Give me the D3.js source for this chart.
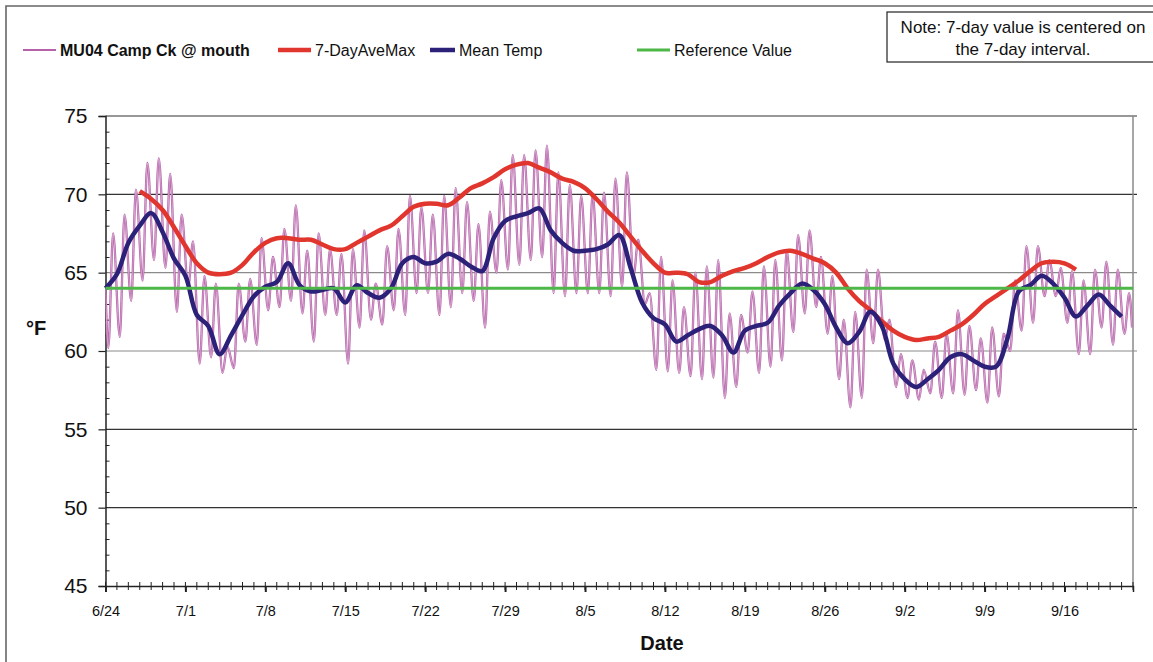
<!DOCTYPE html>
<html>
<head>
<meta charset="utf-8">
<script src="https://d3js.org/d3.v7.min.js"></script>
<style>
  body { margin: 0; background: #fff; }
  svg { font-family: "Liberation Sans", Arial, sans-serif; }
</style>
</head>
<body>
<svg id="chart" width="1153" height="662"></svg>
<script>
// ---- data ----
const startDay = "6/24";          // first day of record, day index 0
const endDay = "9/22";            // right end of the axis

// continuous logger: daily minimum (early morning) and maximum (afternoon), deg F
const dailyMin = [60.2, 60.9, 63.2, 64.5, 65.8, 65.3, 62.5, 64.1, 59.2, 59.6,
                  58.6, 58.9, 60.6, 60.4, 62.6, 62.8, 63.2, 62.4, 60.6, 62.3,
                  62.3, 59.2, 61.5, 62.0, 61.7, 62.6, 62.3, 63.7, 63.7, 62.3,
                  62.8, 63.7, 63.2, 61.5, 65.0, 65.2, 65.5, 65.8, 66.0, 63.7,
                  63.5, 63.7, 63.7, 63.7, 63.5, 64.1, 64.8, 63.0, 58.8, 58.7,
                  58.6, 58.4, 58.2, 58.3, 57.0, 57.7, 59.9, 58.6, 59.0, 59.4,
                  61.2, 62.4, 62.8, 61.1, 58.2, 56.4, 57.0, 60.5, 60.7, 57.7,
                  57.0, 56.9, 57.3, 57.0, 57.3, 57.2, 57.5, 56.7, 57.1, 60.0,
                  61.3, 61.8, 63.5, 63.5, 61.8, 59.8, 59.8, 61.5, 60.4, 61.1];
const dailyMax = [67.5, 68.7, 70.3, 72.0, 72.3, 71.3, 68.7, 67.0, 64.8, 64.3,
                  60.3, 64.3, 64.6, 67.2, 66.0, 67.8, 69.3, 66.4, 67.5, 66.5,
                  66.2, 66.5, 67.7, 64.3, 66.7, 67.8, 69.9, 69.2, 68.7, 69.9,
                  70.4, 69.5, 68.1, 68.9, 70.9, 72.5, 72.5, 72.8, 73.1, 71.4,
                  70.6, 69.9, 70.0, 70.1, 71.0, 71.4, 67.1, 63.7, 66.0, 64.5,
                  62.8, 65.0, 65.4, 65.8, 62.4, 62.3, 63.8, 65.4, 65.8, 66.4,
                  67.4, 67.7, 66.0, 64.8, 62.0, 62.5, 65.2, 65.2, 62.0, 59.8,
                  59.4, 58.8, 60.6, 61.1, 62.6, 61.6, 60.8, 61.5, 61.1, 64.5,
                  66.7, 66.7, 65.8, 65.3, 65.1, 64.5, 65.2, 65.7, 65.2, 63.7];
const minHour = 6, maxHour = 16;
const firstReading = 64.0, lastReading = 61.5;

// 7-day average of daily maxima, centred, starting 6/27
const aveMaxStart = "6/27";
const aveMax7 = [70.2, 69.7, 69.0, 67.9, 66.7, 65.6, 65.0, 64.9, 65.0, 65.5,
                 66.3, 66.9, 67.2, 67.2, 67.1, 67.1, 66.8, 66.5, 66.5, 66.9,
                 67.3, 67.7, 68.0, 68.6, 69.2, 69.4, 69.4, 69.3, 69.8, 70.4,
                 70.7, 71.1, 71.6, 71.9, 72.0, 71.7, 71.4, 71.0, 70.8, 70.4,
                 69.7, 68.9, 68.2, 67.3, 66.4, 65.6, 65.0, 65.0, 64.9, 64.4,
                 64.4, 64.8, 65.1, 65.3, 65.6, 66.0, 66.3, 66.4, 66.2, 65.9,
                 65.6, 65.0, 64.0, 63.2, 62.6, 61.9, 61.3, 60.9, 60.7, 60.8,
                 60.9, 61.3, 61.7, 62.3, 63.0, 63.5, 64.0, 64.5, 65.1, 65.6,
                 65.7, 65.6, 65.2];

// daily mean temperature, starting 6/24
const meanTemp = [64.0, 64.9, 66.9, 68.0, 68.8, 67.6, 65.9, 64.8, 62.3, 61.6,
                  59.8, 61.0, 62.3, 63.5, 64.1, 64.4, 65.6, 64.2, 63.8, 63.9,
                  64.0, 63.1, 64.2, 63.7, 63.4, 64.0, 65.6, 66.0, 65.6, 65.7,
                  66.2, 65.9, 65.4, 65.1, 67.2, 68.3, 68.6, 68.8, 69.1, 67.7,
                  66.9, 66.4, 66.4, 66.5, 66.8, 67.4, 65.3, 63.1, 62.1, 61.7,
                  60.6, 61.0, 61.4, 61.6, 61.0, 59.9, 61.3, 61.6, 61.8, 62.9,
                  63.7, 64.3, 63.9, 63.0, 61.5, 60.5, 61.2, 62.5, 61.6, 59.2,
                  58.2, 57.7, 58.2, 58.8, 59.6, 59.8, 59.4, 59.0, 59.0, 60.8,
                  63.8, 64.2, 64.8, 64.3, 63.4, 62.2, 62.9, 63.6, 62.9, 62.2];

const referenceValue = 64;

const xTickLabels = ["6/24", "7/1", "7/8", "7/15", "7/22", "7/29", "8/5",
                     "8/12", "8/19", "8/26", "9/2", "9/9", "9/16"];
const yTicks = [45, 50, 55, 60, 65, 70, 75];

const seriesNames = ["MU04 Camp Ck @ mouth", "7-DayAveMax", "Mean Temp", "Reference Value"];
const seriesColors = ["#b562a9", "#e1362e", "#2b2178", "#4db748"];

// ---- scales ----
const parse = s => { const [m, d] = s.split("/").map(Number); return new Date(2007, m - 1, d); };
const day0 = parse(startDay);

const plot = { left: 105.5, right: 1133, top: 116, bottom: 586 };

const x = d3.scaleTime().domain([day0, parse(endDay)]).range([plot.left, plot.right]);
const y = d3.scaleLinear().domain([45, 75]).range([plot.bottom, plot.top]);

const svg = d3.select("#chart");

// outer chart border
svg.append("path")
  .attr("d", "M6,662 V6 H1153")
  .attr("fill", "none")
  .attr("stroke", "#666")
  .attr("stroke-width", 1.6);

// gridlines
svg.append("g").selectAll("line")
  .data(yTicks.filter(v => v > 45))
  .join("line")
  .attr("x1", plot.left).attr("x2", plot.right + 4)
  .attr("y1", d => y(d)).attr("y2", d => y(d))
  .attr("stroke", d => (d === 60 || d === 65) ? "#8a8a8a" : "#333")
  .attr("stroke-width", 1.2);

// right frame
svg.append("line")
  .attr("x1", plot.right).attr("x2", plot.right)
  .attr("y1", plot.top).attr("y2", plot.bottom)
  .attr("stroke", "#8a8a8a").attr("stroke-width", 1.5);

// y axis
const yAxis = svg.append("g")
  .attr("transform", `translate(${plot.left},0)`)
  .call(d3.axisLeft(y).tickValues(yTicks).tickSize(7).tickPadding(11));
yAxis.select(".domain").attr("stroke", "#222").attr("stroke-width", 1.5);
yAxis.selectAll(".tick line").attr("stroke", "#222").attr("stroke-width", 1.2);
yAxis.selectAll("text").attr("font-size", 21).attr("fill", "#111")
  .attr("font-family", "Liberation Sans, Arial, sans-serif");

svg.append("g")
  .attr("transform", `translate(${plot.left},0)`)
  .call(d3.axisRight(y).tickValues(d3.range(46, 75).filter(v => v % 5)).tickSize(4).tickFormat(""))
  .call(g => g.select(".domain").remove())
  .selectAll(".tick line").attr("stroke", "#222").attr("stroke-width", 1);

// x axis
const xAxis = svg.append("g")
  .attr("transform", `translate(0,${plot.bottom})`)
  .call(d3.axisBottom(x).tickValues(xTickLabels.map(parse))
    .tickFormat((d, i) => xTickLabels[i]).tickSize(6).tickPadding(14));
xAxis.select(".domain").attr("stroke", "#222").attr("stroke-width", 1.5);
xAxis.selectAll(".tick line").attr("stroke", "#222").attr("stroke-width", 2);
xAxis.selectAll("text").attr("font-size", 14.5).attr("fill", "#111")
  .attr("font-family", "Liberation Sans, Arial, sans-serif");

svg.append("g").selectAll("line")
  .data(d3.timeDay.range(day0, d3.timeDay.offset(parse(endDay), 1)))
  .join("line")
  .attr("x1", d => x(d)).attr("x2", d => x(d))
  .attr("y1", plot.bottom - 4).attr("y2", plot.bottom + 4)
  .attr("stroke", "#222").attr("stroke-width", 1);

// axis titles
svg.append("text").attr("x", 36).attr("y", 335)
  .attr("text-anchor", "middle").attr("font-size", 20).attr("font-weight", "bold")
  .attr("fill", "#111").text("°F");
svg.append("text").attr("x", 662).attr("y", 650)
  .attr("text-anchor", "middle").attr("font-size", 20).attr("font-weight", "bold")
  .attr("fill", "#111").text("Date");

svg.append("defs").append("clipPath").attr("id", "plotclip")
  .append("rect").attr("x", plot.left).attr("y", plot.top - 10)
  .attr("width", plot.right - plot.left).attr("height", plot.bottom - plot.top + 10);

// continuous record: min and max of each day in time order
const raw = [{ t: day0, v: firstReading }];
dailyMin.forEach((mn, i) => {
  const d = d3.timeDay.offset(day0, i);
  raw.push({ t: d3.timeHour.offset(d, minHour), v: mn });
  raw.push({ t: d3.timeHour.offset(d, maxHour), v: dailyMax[i] });
});
raw.push({ t: d3.timeHour.offset(d3.timeDay.offset(day0, dailyMin.length - 1), 22), v: lastReading });

const rawLine = d3.line().x(d => x(d.t)).y(d => y(d.v)).curve(d3.curveMonotoneX);
const gRaw = svg.append("g").attr("clip-path", "url(#plotclip)");
gRaw.append("path").datum(raw).attr("d", rawLine)
  .attr("fill", "none").attr("stroke", seriesColors[0]).attr("stroke-width", 2.3);
gRaw.append("path").datum(raw).attr("d", rawLine)
  .attr("fill", "none").attr("stroke", "#ecd0e8").attr("stroke-width", 0.6);

// 7-day average max
const aveStart = parse(aveMaxStart);
const smooth = d3.line().x(d => x(d.t)).y(d => y(d.v)).curve(d3.curveCatmullRom.alpha(0.5));
svg.append("path")
  .datum(aveMax7.map((v, i) => ({ t: d3.timeDay.offset(aveStart, i), v })))
  .attr("d", smooth)
  .attr("fill", "none").attr("stroke", seriesColors[1]).attr("stroke-width", 4.5)
  .attr("stroke-linejoin", "round");

// mean temp
svg.append("path")
  .datum(meanTemp.map((v, i) => ({ t: d3.timeDay.offset(day0, i), v })))
  .attr("d", smooth)
  .attr("fill", "none").attr("stroke", seriesColors[2]).attr("stroke-width", 4.5)
  .attr("stroke-linejoin", "round");

// reference value
svg.append("line")
  .attr("x1", plot.left).attr("x2", plot.right)
  .attr("y1", y(referenceValue)).attr("y2", y(referenceValue))
  .attr("stroke", seriesColors[3]).attr("stroke-width", 3);

// legend
const legendLayout = [
  { x: 23, len: 33, w: 1.8, bold: true },
  { x: 278, len: 33, w: 4.5, bold: false },
  { x: 430, len: 25, w: 4.5, bold: false },
  { x: 637, len: 33, w: 3, bold: false }
];
const lg = svg.append("g").selectAll("g").data(seriesNames).join("g");
lg.append("line")
  .attr("x1", (d, i) => legendLayout[i].x)
  .attr("x2", (d, i) => legendLayout[i].x + legendLayout[i].len)
  .attr("y1", 50).attr("y2", 50)
  .attr("stroke", (d, i) => seriesColors[i])
  .attr("stroke-width", (d, i) => legendLayout[i].w);
lg.append("text")
  .attr("x", (d, i) => legendLayout[i].x + legendLayout[i].len + 4)
  .attr("y", 56)
  .attr("font-size", 16)
  .attr("font-weight", (d, i) => legendLayout[i].bold ? "bold" : "normal")
  .attr("fill", "#111")
  .text(d => d);

// note box
svg.append("rect").attr("x", 887).attr("y", 12).attr("width", 280).attr("height", 50)
  .attr("fill", "#fff").attr("stroke", "#222").attr("stroke-width", 1.2);
const note = svg.append("text").attr("font-size", 17).attr("fill", "#111")
  .attr("text-anchor", "middle");
note.append("tspan").attr("x", 1023).attr("y", 33).text("Note: 7-day value is centered on");
note.append("tspan").attr("x", 1023).attr("y", 55).text("the 7-day interval.");
</script>
</body>
</html>
